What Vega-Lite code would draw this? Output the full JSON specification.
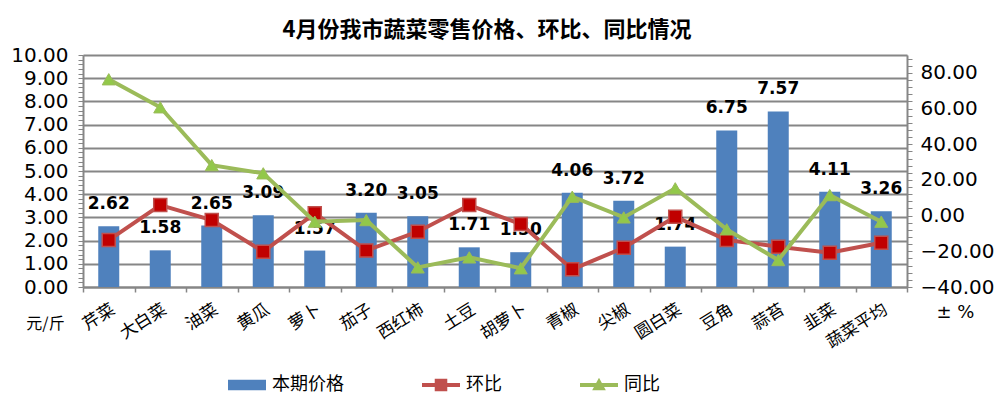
{
  "$schema": "https://vega.github.io/schema/vega-lite/v6.json",
  "width": 824,
  "height": 232,
  "autosize": "none",
  "padding": {"left": 83, "top": 55, "right": 91, "bottom": 117},
  "background": "white",
  "title": {
    "text": "4月份我市蔬菜零售价格、环比、同比情况",
    "font": "Noto Sans CJK SC",
    "fontSize": 22,
    "fontWeight": "bold",
    "color": "black",
    "anchor": "middle",
    "frame": "group",
    "dx": -8,
    "offset": 3
  },
  "config": {
    "axis": {"labelColor": "black", "titleColor": "black"}
  },
  "data": {
    "values": [
      {"cat": "芹菜", "price": 2.62, "hb": -13.7, "tb": 76.4},
      {"cat": "大白菜", "price": 1.58, "hb": 5.9, "tb": 60.7},
      {"cat": "油菜", "price": 2.65, "hb": -2.5, "tb": 28.3},
      {"cat": "黄瓜", "price": 3.09, "hb": -20.2, "tb": 23.7},
      {"cat": "萝卜", "price": 1.57, "hb": 1.3, "tb": -3.4},
      {"cat": "茄子", "price": 3.20, "hb": -19.6, "tb": -2.5},
      {"cat": "西红柿", "price": 3.05, "hb": -9.0, "tb": -29.0},
      {"cat": "土豆", "price": 1.71, "hb": 5.9, "tb": -23.4},
      {"cat": "胡萝卜", "price": 1.50, "hb": -4.7, "tb": -29.5},
      {"cat": "青椒", "price": 4.06, "hb": -30.1, "tb": 10.6},
      {"cat": "尖椒", "price": 3.72, "hb": -18.0, "tb": -1.0},
      {"cat": "圆白菜", "price": 1.74, "hb": -0.6, "tb": 15.3},
      {"cat": "豆角", "price": 6.75, "hb": -13.7, "tb": -7.7},
      {"cat": "蒜苔", "price": 7.57, "hb": -17.4, "tb": -24.9},
      {"cat": "韭菜", "price": 4.11, "hb": -20.8, "tb": 11.5},
      {"cat": "蔬菜平均", "price": 3.26, "hb": -15.2, "tb": -3.4}
    ]
  },
  "encoding": {
    "x": {
      "field": "cat",
      "type": "nominal",
      "sort": null,
      "scale": {"paddingInner": 0, "paddingOuter": 0},
      "axis": {
        "title": null,
        "grid": false,
        "domainColor": "#868686",
        "domainWidth": 2,
        "tickColor": "#868686",
        "tickWidth": 1.5,
        "tickSize": 5,
        "tickBand": "extent",
        "labelAngle": -32,
        "labelAlign": "right",
        "labelBaseline": "top",
        "labelFont": "Noto Sans CJK SC",
        "labelFontSize": 17,
        "labelPadding": 9,
        "labelOverlap": false,
        "labelColor": "black"
      }
    }
  },
  "layer": [
    {
      "encoding": {
        "y": {
          "field": "price",
          "type": "quantitative",
          "scale": {"domain": [0, 10], "nice": false, "zero": true},
          "axis": {
            "orient": "left",
            "title": "元/斤",
            "titleAngle": 0,
            "titleX": -38,
            "titleY": 268,
            "titleAlign": "center",
            "titleBaseline": "middle",
            "titleFont": "Noto Sans CJK SC",
            "titleFontSize": 16,
            "titleFontWeight": "normal",
            "values": [0,0.2,0.4,0.6,0.8,1,1.2,1.4,1.6,1.8,2,2.2,2.4,2.6,2.8,3,3.2,3.4,3.6,3.8,4,4.2,4.4,4.6,4.8,5,5.2,5.4,5.6,5.8,6,6.2,6.4,6.6,6.8,7,7.2,7.4,7.6,7.8,8,8.2,8.4,8.6,8.8,9,9.2,9.4,9.6,9.8,10],
            "labelExpr": "abs(datum.value - round(datum.value)) < 0.001 ? format(datum.value, '.2f') : ''",
            "labelOverlap": false,
            "labelBound": false,
            "labelFont": "DejaVu Sans",
            "labelFontSize": 20,
            "labelPadding": 10,
            "labelColor": "black",
            "domainColor": "#868686",
            "domainWidth": 2,
            "tickColor": "#868686",
            "tickWidth": 1,
            "tickSize": 5,
            "grid": true,
            "gridWidth": 2,
            "gridColor": "#868686",
            "gridOpacity": {"condition": {"test": "abs(datum.value - round(datum.value)) < 0.001", "value": 1}, "value": 0}
          }
        }
      },
      "layer": [
        {
          "mark": {"type": "bar", "size": 21, "color": "#4F81BD"}
        },
        {
          "mark": {"type": "text", "font": "DejaVu Sans", "fontSize": 17, "fontWeight": "bold", "color": "black", "baseline": "middle", "dy": -22},
          "encoding": {
            "text": {"field": "price", "type": "quantitative", "format": ".2f"}
          }
        }
      ]
    },
    {
      "transform": [{"fold": ["hb", "tb"], "as": ["k", "v"]}],
      "encoding": {
        "y": {
          "field": "v",
          "type": "quantitative",
          "scale": {"domain": [-40, 90], "nice": false, "zero": false},
          "axis": {
            "orient": "right",
            "title": "± %",
            "titleAngle": 0,
            "titleX": 48,
            "titleY": 257,
            "titleAlign": "center",
            "titleBaseline": "middle",
            "titleFont": "DejaVu Sans",
            "titleFontSize": 18,
            "titleFontWeight": "normal",
            "values": [-40,-36,-32,-28,-24,-20,-16,-12,-8,-4,0,4,8,12,16,20,24,28,32,36,40,44,48,52,56,60,64,68,72,76,80,84,88],
            "labelExpr": "datum.value % 20 == 0 ? format(datum.value, '.2f') : ''",
            "labelOverlap": false,
            "labelBound": false,
            "labelFont": "DejaVu Sans",
            "labelFontSize": 20,
            "labelPadding": 8,
            "labelColor": "black",
            "domainColor": "#868686",
            "domainWidth": 2,
            "tickColor": "#868686",
            "tickWidth": 1,
            "tickSize": 5,
            "grid": false
          }
        }
      },
      "layer": [
        {
          "transform": [{"filter": "datum.k == 'hb'"}],
          "mark": {"type": "line", "color": "#C0504D", "strokeWidth": 4}
        },
        {
          "transform": [{"filter": "datum.k == 'hb'"}],
          "mark": {"type": "point", "shape": "square", "size": 170, "filled": true, "fill": "#C00000", "stroke": "#C0504D", "strokeWidth": 1.5, "opacity": 1}
        },
        {
          "transform": [{"filter": "datum.k == 'tb'"}],
          "mark": {"type": "line", "color": "#9BBB59", "strokeWidth": 4}
        },
        {
          "transform": [{"filter": "datum.k == 'tb'"}],
          "mark": {"type": "point", "shape": "triangle-up", "size": 170, "filled": true, "fill": "#92C84A", "stroke": "#9BBB59", "strokeWidth": 1, "opacity": 1}
        }
      ]
    },
    {
      "data": {"values": [{"series": "本期价格"}, {"series": "环比"}, {"series": "同比"}]},
      "mark": {"type": "point", "filled": true, "opacity": 1, "clip": true},
      "encoding": {
        "x": {"datum": "芹菜"},
        "y": {"datum": 0, "type": "quantitative", "scale": {"domain": [1, 2]}, "axis": null},
        "color": {
          "field": "series",
          "type": "nominal",
          "sort": null,
          "scale": {"domain": ["本期价格", "环比", "同比"], "range": ["#4F81BD", "#C0504D", "#9BBB59"]},
          "legend": {
            "title": null,
            "orient": "none",
            "legendX": 145,
            "legendY": 311,
            "direction": "horizontal",
            "symbolSize": 1444,
            "symbolOpacity": 1,
            "symbolStrokeWidth": 0,
            "labelFont": "Noto Sans CJK SC",
            "labelFontSize": 18,
            "labelColor": "black",
            "labelOffset": 6,
            "columnPadding": 78
          }
        },
        "shape": {
          "field": "series",
          "type": "nominal",
          "sort": null,
          "scale": {
            "domain": ["本期价格", "环比", "同比"],
            "range": [
              "M-1,-0.27H1V0.27H-1Z",
              "M-1,-0.1H1V0.1H-1Z M-0.33,-0.33H0.33V0.33H-0.33Z",
              "M-1,-0.1H1V0.1H-1Z M0,-0.38L0.36,0.28H-0.36Z"
            ]
          }
        }
      }
    }
  ],
  "resolve": {"scale": {"y": "independent"}}
}
